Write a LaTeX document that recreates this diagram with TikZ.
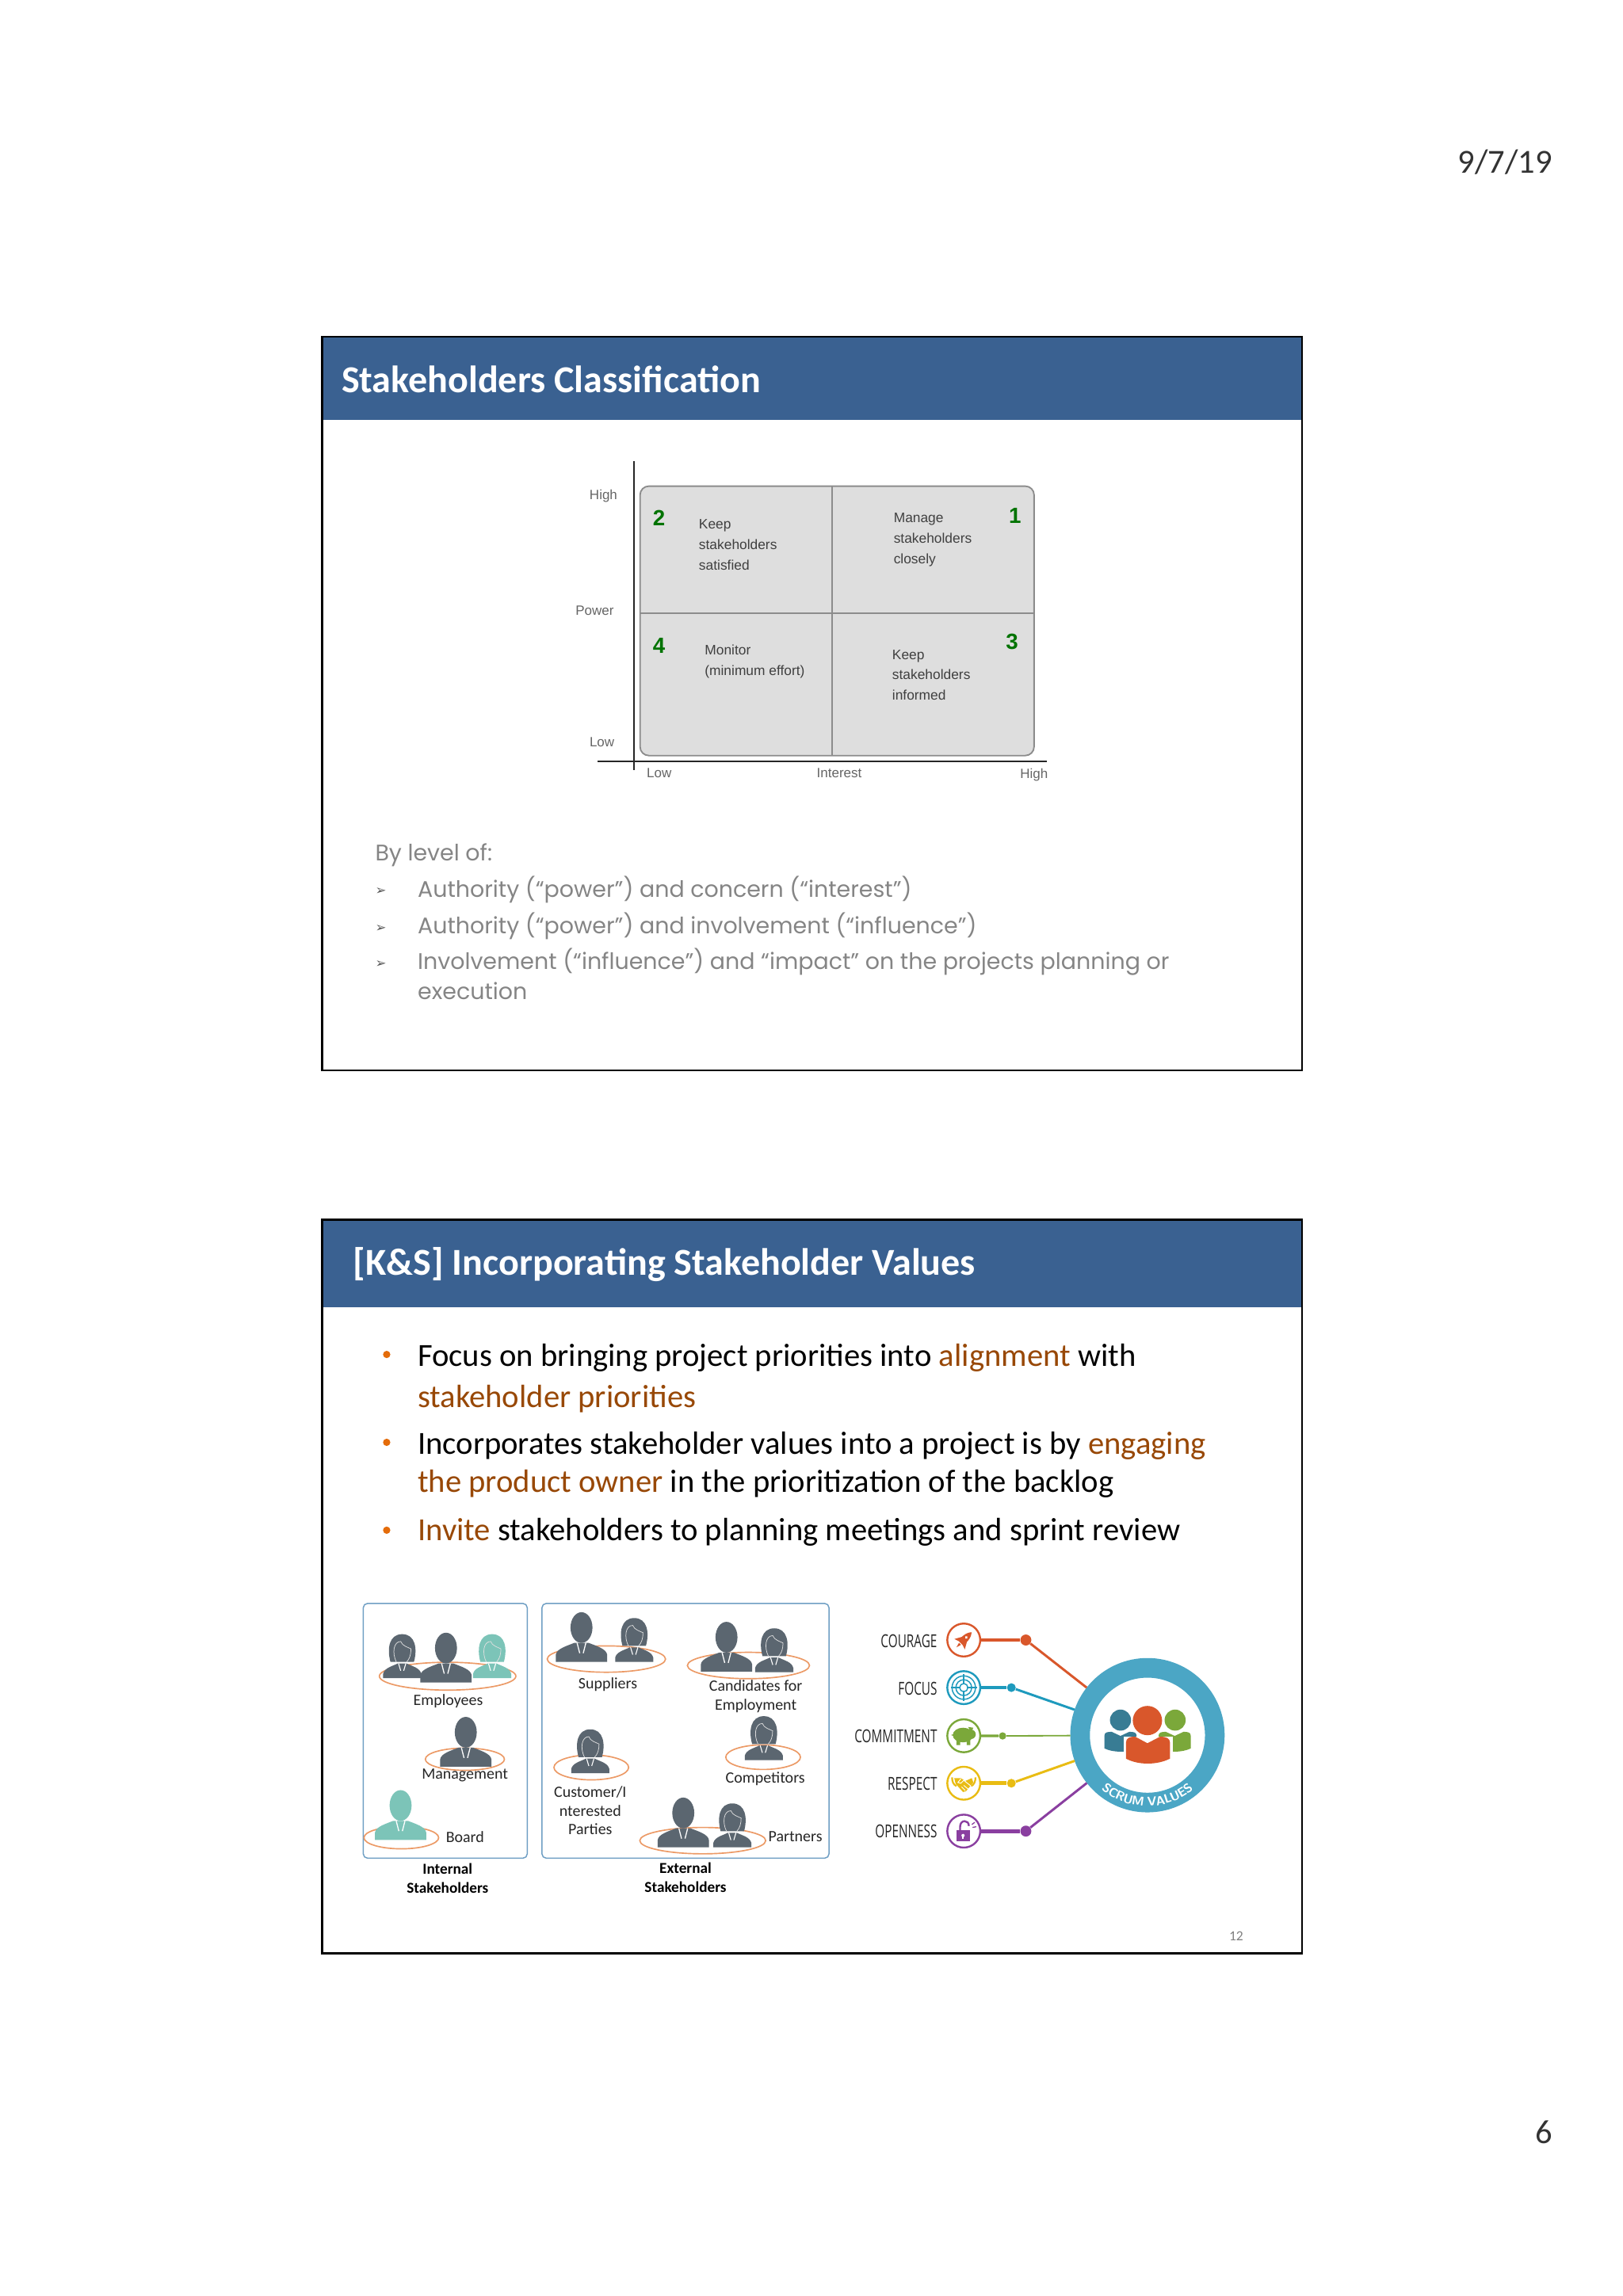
\documentclass[tikz,border=0pt]{standalone}
\usepackage{fontspec}
\setmainfont{Carlito}
\newfontfamily\gothicfont{Poppins}
\newfontfamily\gridfont{Liberation Sans}
\newfontfamily\narrowfont[FakeStretch=0.68]{Open Sans}
\newfontfamily\symfont{DejaVu Sans}
\usetikzlibrary{positioning,decorations.text}
\definecolor{headblue}{HTML}{3A6191}
\definecolor{figgray}{HTML}{5B6670}
\definecolor{figteal}{HTML}{7CC4B8}
\definecolor{ringorange}{HTML}{EC9A66}
\definecolor{boxblue}{HTML}{6F9FC4}
\definecolor{hotbrown}{HTML}{984806}
\definecolor{dotorange}{HTML}{E46C0A}
\definecolor{gothgray}{HTML}{858585}
\definecolor{hubblue}{HTML}{4BA6C5}
\definecolor{vcourage}{HTML}{D9572B}
\definecolor{vfocus}{HTML}{1E9ABD}
\definecolor{vcommit}{HTML}{7BA83A}
\definecolor{vrespect}{HTML}{E9BC13}
\definecolor{vopen}{HTML}{8A3FA0}
\newcommand{\hot}[1]{\textcolor{hotbrown}{#1}}
\tikzset{
  man/.pic={
    \fill[pic actions] (0,-23.5) ellipse[x radius=7.5,y radius=10.5];
    \fill[pic actions] (-17.5,0) -- (-17.5,-5) .. controls (-17,-9) and (-10,-11) .. (-5,-13) -- (5,-13) .. controls (10,-11) and (17,-9) .. (17.5,-5) -- (17.5,0) -- cycle;
    \draw[white,line width=.7pt] (-3,-13) -- (-1.2,-6) (3,-13) -- (1.2,-6);
  },
  woman/.pic={
    \fill[pic actions] (-8,-11) .. controls (-10.5,-20) and (-9,-30) .. (0,-30) .. controls (9,-30) and (10.5,-20) .. (8,-11) -- cycle;
    \fill[pic actions] (-13,0) -- (-13,-3) .. controls (-12,-7) and (-7,-8) .. (-3,-10) -- (3,-10) .. controls (7,-8) and (12,-7) .. (13,-3) -- (13,0) -- cycle;
    \draw[white!75!gray,line width=.4pt] (-4,-11) .. controls (-7,-17) and (-6,-25) .. (-1,-25) .. controls (0,-22) and (4,-21) .. (6,-20) .. controls (6,-16) and (5,-13) .. (3,-11);
    \draw[white,line width=.6pt] (-2.5,-10) -- (-1,-5) (2.5,-10) -- (1,-5);
  }
}
\begin{document}
\begin{tikzpicture}[x=1pt,y=-1pt,
  slide/.style={draw=black,line width=1.3pt},
  band/.style={fill=headblue},
  title/.style={anchor=base west,text=white,font=\fontsize{26}{26}\selectfont\bfseries},
  folio/.style={font=\fontsize{23}{23}\selectfont,text=black!80},
  cell/.style={anchor=west,align=left,text=black!75,inner sep=0pt,font=\fontsize{9.4}{14}\selectfont\gridfont},
  axlabel/.style={text=black!60,inner sep=0pt,font=\fontsize{9.2}{10}\selectfont\gridfont},
  rank/.style={text=green!45!black,inner sep=0pt,font=\fontsize{15}{15}\selectfont\gridfont\bfseries},
  goth/.style={anchor=base west,inner sep=0pt,text=gothgray,font=\fontsize{15.4}{15.4}\selectfont\gothicfont},
  tick/.style={inner sep=0pt,text=black!65,font=\fontsize{9}{9}\selectfont\symfont},
  body/.style={anchor=base west,inner sep=0pt,font=\fontsize{22}{22}\selectfont},
  spot/.style={circle,fill=dotorange,inner sep=0pt,minimum size=5pt},
  group/.style={draw=boxblue,line width=.8pt,rounded corners=3pt},
  halo/.style={draw=ringorange,line width=.9pt},
  who/.style={align=center,inner sep=0pt,text=black!85,font=\fontsize{10.8}{12.8}\selectfont},
  whobold/.style={align=center,inner sep=0pt,font=\fontsize{10.4}{13}\selectfont\bfseries},
  valname/.style={anchor=east,inner sep=0pt,text=black!85,font=\fontsize{12.2}{12.2}\selectfont\narrowfont},
  iconring/.style={circle,draw,fill=white,line width=1.3pt,minimum size=22.5pt,inner sep=0pt},
  joint/.style={circle,inner sep=0pt,minimum size=7.5pt},
  gray fig/.style={fill=figgray},
  teal fig/.style={fill=figteal}]
\path[use as bounding box,fill=white] (0,0) rectangle (1108,1568);

\node[folio,anchor=base east,inner sep=0pt] (date) at (1060,118) {9/7/19};
\node[folio,anchor=base east,inner sep=0pt] (pageno) at (1060,1464) {6};

% first slide
\fill[band] (220,230) rectangle (889,287);
\draw[slide] (220,230) rectangle (889,731);
\node[title,inner sep=0pt] (title1) at (233,268) {Stakeholders Classification};

\draw[draw=black!45,fill=black!13,line width=1pt,rounded corners=6pt] (437,332) rectangle (706,516);
\draw[black!45,line width=1pt] (568,332) -- (568,516) (437,419) -- (706,419);
\draw[black!85,line width=.9pt] (433,315) -- (433,526);
\draw[black!85,line width=.9pt] (408,520) -- (715,520);
\node[axlabel] (yhigh) at (412,339) {High};
\node[axlabel] (ypower) at (406,417) {Power};
\node[axlabel] (ylow) at (411,507) {Low};
\node[axlabel] (xlow) at (450,528) {Low};
\node[axlabel] (xint) at (573,528) {Interest};
\node[axlabel] (xhigh) at (706,529) {High};
\node[rank] (r2) at (450,354) {2};
\node[rank] (r1) at (693,352) {1};
\node[rank] (r4) at (450,441) {4};
\node[rank] (r3) at (691,438) {3};
\node[cell] (keepsat) at (477,372) {Keep\\stakeholders\\satisfied};
\node[cell] (manage) at (610,368.5) {Manage\\stakeholders\\closely};
\node[cell] (monitor) at (481,452) {Monitor\\(minimum effort)};
\node[cell] (keepinf) at (609,461) {Keep\\stakeholders\\informed};

\node[goth] (bylevel) at (256,588) {By level of:};
\node[goth] (b1) at (285,612.5) {Authority (“power”) and concern (“interest”)};
\node[goth] (b2) at (285,637.5) {Authority (“power”) and involvement (“influence”)};
\node[goth] (b3) at (285,662) {Involvement (“influence”) and “impact” on the projects planning or};
\node[goth] (b3b) at (285,682.5) {execution};
\node[tick] (t1) at (260,608.5) {➢};
\node[tick] (t2) at (260,634) {➢};
\node[tick] (t3) at (260,658.5) {➢};

% second slide
\fill[band] (220,833) rectangle (889,893);
\draw[slide] (220,833) rectangle (889,1334);
\node[title,inner sep=0pt] (title2) at (241,871) {[K\&S] Incorporating Stakeholder Values};

\node[spot] (s1) at (264,925) {};
\node[spot] (s2) at (264,985) {};
\node[spot] (s3) at (264,1045) {};
\node[body] (l1) at (285,933) {Focus on bringing project priorities into \hot{alignment} with};
\node[body] (l2) at (285,961) {\hot{stakeholder priorities}};
\node[body] (l3) at (285,993) {Incorporates stakeholder values into a project is by \hot{engaging}};
\node[body] (l4) at (285,1019) {\hot{the product owner} in the prioritization of the backlog};
\node[body] (l5) at (285,1052) {\hot{Invite} stakeholders to planning meetings and sprint review};

\draw[group] (248,1095) rectangle (360,1269);
\draw[group] (370,1095) rectangle (566,1269);

% internal group
\draw[halo] (305.6,1144.7) ellipse[x radius=46.6,y radius=9.5];
\pic[gray fig] (e1) at (274.6,1146) {woman};
\pic[gray fig] (e2) at (304.5,1149) {man};
\pic[teal fig] (e3) at (336,1146) {woman};
\node[who] (employees) at (306,1162) {Employees};
\draw[halo] (317.4,1201.4) ellipse[x radius=27,y radius=7.6];
\pic[gray fig] (m1) at (318,1206.5) {man};
\node[who] (management) at (317.4,1212.5) {Management};
\draw[halo] (274,1255) ellipse[x radius=25.5,y radius=7.6];
\pic[teal fig] (bd) at (273.5,1256.5) {man};
\node[who] (board) at (317.5,1254.5) {Board};
\node[whobold] (internal) at (305.6,1283) {Internal\\Stakeholders};

% external group
\draw[halo] (414,1133) ellipse[x radius=40.4,y radius=9];
\pic[gray fig] (s1) at (397,1135) {man};
\pic[gray fig] (s2) at (433,1135) {woman};
\node[who] (suppliers) at (415,1150.5) {Suppliers};
\draw[halo] (511,1137.4) ellipse[x radius=41.7,y radius=9];
\pic[gray fig] (c1) at (496,1141.6) {man};
\pic[gray fig] (c2) at (528.6,1142) {woman};
\node[who] (candidates) at (516,1158.5) {Candidates for\\Employment};
\draw[halo] (403.7,1207) ellipse[x radius=25.5,y radius=8.5];
\pic[gray fig] (u1) at (403,1211) {woman};
\node[who] (customer) at (403,1236.5) {Customer/I\\nterested\\Parties};
\draw[halo] (521,1200) ellipse[x radius=25.5,y radius=8.4];
\pic[gray fig] (o1) at (521.5,1202) {woman};
\node[who] (competitors) at (522.5,1215) {Competitors};
\draw[halo] (479.8,1257) ellipse[x radius=43,y radius=9];
\pic[gray fig] (p1) at (466.5,1261.6) {man};
\pic[gray fig] (p2) at (500,1261.6) {woman};
\node[who] (partners) at (543,1254) {Partners};
\node[whobold] (external) at (468,1282) {External\\Stakeholders};

% scrum values
\node[circle,draw=hubblue,line width=13.4pt,fill=white,minimum size=92pt,inner sep=0pt] (hub) at (783.4,1185) {};
\fill[hubblue!80!white] (783.4,1185) ++(0,0);
\node[joint,fill=vcourage] (jcourage) at (700.4,1120) {};
\node[joint,fill=vfocus,minimum size=6pt] (jfocus) at (690.5,1152.5) {};
\node[joint,fill=vcommit,minimum size=5pt] (jcommit) at (684.5,1185.5) {};
\node[joint,fill=vrespect,minimum size=6pt] (jrespect) at (690.5,1217.8) {};
\node[joint,fill=vopen] (jopen) at (700.4,1250.5) {};
\node[iconring,draw=vcourage] (courage) at (658,1120) {};
\node[iconring,draw=vfocus] (focus) at (658,1152.5) {};
\node[iconring,draw=vcommit] (commit) at (658,1185.4) {};
\node[iconring,draw=vrespect] (respect) at (658,1217.8) {};
\node[iconring,draw=vopen] (openn) at (658,1250.5) {};
\draw[vcourage,line width=2.6pt] (courage) -- (jcourage);
\draw[vcourage,line width=1.6pt] (jcourage) -- (hub);
\draw[vfocus,line width=2.6pt] (focus) -- (jfocus);
\draw[vfocus,line width=1.6pt] (jfocus) -- (hub);
\draw[vcommit,line width=1.8pt] (commit) -- (jcommit);
\draw[vcommit,line width=1pt] (jcommit) -- (hub);
\draw[vrespect,line width=2.6pt] (respect) -- (jrespect);
\draw[vrespect,line width=1.6pt] (jrespect) -- (hub);
\draw[vopen,line width=2.6pt] (openn) -- (jopen);
\draw[vopen,line width=1.6pt] (jopen) -- (hub);
\node[valname] (ncourage) at (640,1120.5) {COURAGE};
\node[valname] (nfocus) at (640,1153) {FOCUS};
\node[valname] (ncommit) at (640,1185.5) {COMMITMENT};
\node[valname] (nrespect) at (640,1218) {RESPECT};
\node[valname] (nopen) at (640,1250.5) {OPENNESS};

% icons
\begin{scope}[shift={(658,1120)},rotate=-45]
  \fill[vcourage] (0,-7.5) .. controls (3,-4.5) and (2.6,1) .. (2,3) -- (-2,3) .. controls (-2.6,1) and (-3,-4.5) .. (0,-7.5) -- cycle;
  \fill[vcourage] (-2.2,-1) -- (-5,4) -- (-2,3) -- cycle (2.2,-1) -- (5,4) -- (2,3) -- cycle (-1,3.6) -- (0,7) -- (1,3.6) -- cycle;
  \fill[white] (0,-2.5) circle (1);
\end{scope}
\begin{scope}[shift={(658,1152.5)},vfocus,line width=.8pt]
  \draw (0,0) circle (8);
  \draw (0,0) circle (5.4);
  \draw (0,0) circle (2.8);
  \draw[white,line width=1.4pt] (-9,0) -- (-2,0) (2,0) -- (9,0) (0,-9) -- (0,-2) (0,2) -- (0,9);
  \draw (-9,0) -- (-2,0) (2,0) -- (9,0) (0,-9) -- (0,-2) (0,2) -- (0,9);
\end{scope}
\begin{scope}[shift={(658,1185.4)},vcommit]
  \fill (-.5,-.5) ellipse[x radius=7,y radius=5];
  \fill (5,-1) circle (3.2) (3,-6) -- (6.5,-5.5) -- (5,-2) -- cycle;
  \fill (-5,3) rectangle (-2.5,6.3) (2,3) rectangle (4.5,6.3);
  \fill (-8.7,-.5) -- (-6,-1.5) -- (-6,.5) -- cycle;
\end{scope}
\begin{scope}[shift={(658,1217.8)},vrespect]
  \draw[line width=1.2pt] (-8,-4) .. controls (-8,-1) and (-7,1) .. (-5,2);
  \draw[line width=1.2pt] (8,-4) .. controls (8,-1) and (7,1) .. (5,2);
  \fill (-6.5,-3.5) -- (-2,-3.5) -- (1,-1.5) -- (5.5,-3.5) -- (6.5,-.5) -- (1.5,5.5) -- (-.5,6) -- (-5.5,0.5) -- cycle;
  \draw[white,line width=.5pt] (-2,-3) -- (-4,-.5) -- (-2,0) -- (0,-2) -- (5,2) (3,4) -- (0,1.5) (1,5) -- (-1.5,2.5);
\end{scope}
\begin{scope}[shift={(658,1250.5)},vopen]
  \fill (-5,-.5) rectangle (4,7);
  \draw[line width=1.3pt] (-2.5,-.5) -- (-2.5,-3) .. controls (-2.5,-8) and (3.5,-8) .. (3.5,-3.5);
  \fill[white] (-.5,3) circle (1.1);
  \fill[white] (-1,3) rectangle (0,5.5);
  \draw[line width=.7pt] (5.5,-4.5) -- (7.5,-6) (6,-2.5) -- (8.5,-3);
\end{scope}

% people inside the hub
\begin{scope}
  \fill[hubblue!75!black] (765,1174.7) circle (7.2);
  \fill[hubblue!75!black] (754,1185.5) .. controls (754,1183) and (756,1182.7) .. (759,1182.7) -- (765,1185.5) -- (771,1182.7) .. controls (774,1182.7) and (776,1183) .. (776,1185.5) -- (776,1194) .. controls (770,1197) and (760,1197) .. (754,1194) -- cycle;
  \fill[vcommit] (802.3,1174.7) circle (7.2);
  \fill[vcommit] (791,1185.5) .. controls (791,1183) and (793,1182.7) .. (796,1182.7) -- (802,1185.5) -- (808,1182.7) .. controls (811,1182.7) and (813,1183) .. (813,1185.5) -- (813,1194) .. controls (807,1197) and (797,1197) .. (791,1194) -- cycle;
  \fill[vcourage] (783.4,1175) circle (10);
  \fill[white] (767,1186) rectangle (800.5,1207);
  \fill[vcourage] (768.8,1190) .. controls (768.8,1187) and (771,1186) .. (775,1186) -- (783.4,1190.5) -- (792,1186) .. controls (796,1186) and (798.8,1187) .. (798.8,1190) -- (798.8,1201) .. controls (790,1205.5) and (777,1205.5) .. (768.8,1201) -- cycle;
\end{scope}
\path[decorate,decoration={text along path,text align=center,text color=white,raise=1.5pt,
  text={|\fontsize{8.6}{8.6}\selectfont\sffamily\bfseries|SCRUM VALUES}}]
  (745.1,1217.1) .. controls (765.1,1240.9) and (801.7,1240.9) .. (821.7,1217.1);

\node[inner sep=0pt,text=black!50,font=\fontsize{9.5}{9.5}\selectfont] (slideno) at (844,1322) {12};
\end{tikzpicture}
\end{document}
